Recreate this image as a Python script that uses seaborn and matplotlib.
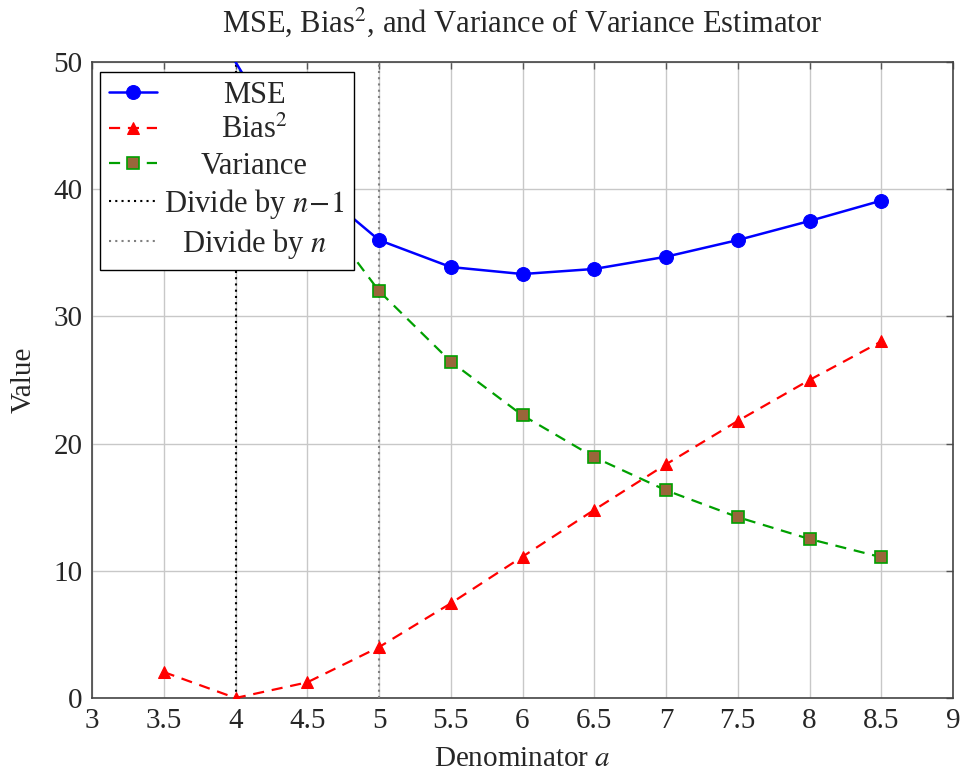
import matplotlib
matplotlib.use("Agg")
import matplotlib.pyplot as plt
import seaborn as sns

denominators = [3.5, 4.0, 4.5, 5.0, 5.5, 6.0, 6.5, 7.0, 7.5, 8.0, 8.5]
mse = [67.35, 50.0, 40.74, 36.0, 33.88, 33.33, 33.73, 34.69, 36.0, 37.5, 39.1]
bias_sq = [2.04, 0.0, 1.23, 4.0, 7.44, 11.11, 14.79, 18.37, 21.78, 25.0, 28.03]
variance = [65.31, 50.0, 39.51, 32.0, 26.45, 22.22, 18.93, 16.33, 14.22, 12.5, 11.07]
divide_n_minus_1 = 4
divide_n = 5
x_ticks = [3, 3.5, 4, 4.5, 5, 5.5, 6, 6.5, 7, 7.5, 8, 8.5, 9]
x_tick_labels = ["3", "3.5", "4", "4.5", "5", "5.5", "6", "6.5", "7", "7.5", "8", "8.5", "9"]
y_ticks = [0, 10, 20, 30, 40, 50]
y_max = 50

sns.set_style("white")
plt.rcParams['font.family'] = ['Liberation Serif', 'DejaVu Serif']
plt.rcParams['mathtext.fontset'] = 'stix'

FS = 21

fig = plt.figure(figsize=(9.67, 7.78), dpi=100)
ax = fig.add_axes([92/967, 1-698/778, (953-92)/967, (698-62)/778])

ax.grid(True, color="#c8c8c8", linewidth=1.0)
ax.set_axisbelow(True)

sns.lineplot(x=denominators, y=mse, ax=ax, color="#0000ff", linewidth=1.8,
             marker="o", markersize=10, markeredgecolor="#0000ff",
             markerfacecolor="#0000ff", label="MSE", zorder=5)
sns.lineplot(x=denominators, y=bias_sq, ax=ax, color="#ff0000", linewidth=1.6,
             linestyle=(0, (5, 3.5)), marker="^", markersize=8,
             markeredgecolor="#ff0000", markerfacecolor="#ff0000",
             label="Bias$^2$", zorder=4)
sns.lineplot(x=denominators, y=variance, ax=ax, color="#00a000", linewidth=1.6,
             linestyle=(0, (5, 3.5)), marker="s", markersize=9,
             markeredgecolor="#00a000", markerfacecolor="#99663a",
             markeredgewidth=1.2, label="Variance", zorder=4)

# only show markers for points strictly inside the y range
for line, vals in zip(ax.get_lines()[:3], [mse, bias_sq, variance]):
    line.set_markevery([i for i, v in enumerate(vals) if v < y_max])

ax.axvline(divide_n_minus_1, color="black", linestyle=(0, (1, 2)), linewidth=1.5,
           label="Divide by $n\\!-\\!1$", zorder=3)
ax.axvline(divide_n, color="#808080", linestyle=(0, (1, 2)), linewidth=1.5,
           label="Divide by $n$", zorder=3)

ax.set_xlim(3, 9)
ax.set_ylim(0, y_max)
ax.set_xticks(x_ticks)
ax.set_xticklabels(x_tick_labels)
ax.set_yticks(y_ticks)
ax.tick_params(axis="both", direction="in", length=5, width=1, color="#555555",
               labelsize=FS, top=True, right=True, pad=7)
for s in ax.spines.values():
    s.set_color("#444444")
    s.set_linewidth(1.2)

ax.set_title("MSE, Bias$^2$, and Variance of Variance Estimator", fontsize=22, pad=22)
ax.set_xlabel("Denominator $a$", fontsize=FS, labelpad=9)
ax.set_ylabel("Value", fontsize=FS, labelpad=12)

leg = ax.legend(loc="upper left", bbox_to_anchor=(8/861, 1 - 10/636), fontsize=22,
                frameon=True, fancybox=False, framealpha=1, edgecolor="black",
                borderpad=0.3, labelspacing=0.2, handlelength=1.55,
                handletextpad=0.25, borderaxespad=0)
leg.get_frame().set_linewidth(1.0)

# center each label within the text column
fig.canvas.draw()
renderer = fig.canvas.get_renderer()
texts = leg.get_texts()
widths = [t.get_window_extent(renderer).width for t in texts]
maxw = max(widths)
for t, w in zip(texts, widths):
    t.set_position(((maxw - w) / 2, 0))

fig.savefig("out.png", dpi=100)
